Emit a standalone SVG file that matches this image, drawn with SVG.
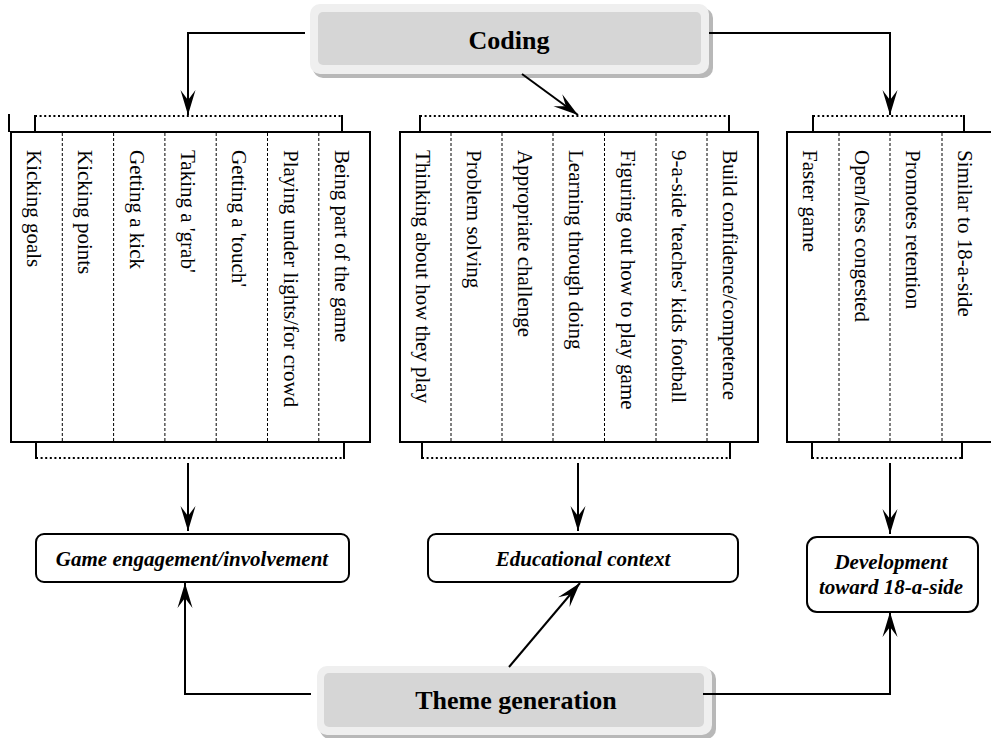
<svg xmlns="http://www.w3.org/2000/svg" width="991" height="738" viewBox="0 0 991 738">
<style>
.col{fill:#fff;stroke:#000;stroke-width:2}
.div{stroke:#000;stroke-width:1;stroke-dasharray:3 2}
.dot{stroke:#000;stroke-width:2;stroke-dasharray:2 2.6;fill:none}
.tick{stroke:#000;stroke-width:2}
.item{font-family:"Liberation Serif",serif;font-size:21px;fill:#000}
.out{fill:#fff;stroke:#000;stroke-width:2}
.outt{font-family:"Liberation Serif",serif;font-size:21px;font-weight:bold;font-style:italic;text-anchor:middle;fill:#000}
.big{font-family:"Liberation Serif",serif;font-size:26px;font-weight:bold;text-anchor:middle;fill:#000}
.con{stroke:#000;stroke-width:2;fill:none;marker-end:url(#ah)}
</style>
<defs>
<marker id="ah" markerUnits="userSpaceOnUse" markerWidth="26" markerHeight="16" viewBox="0 0 26 16" refX="25" refY="8" orient="auto">
<path d="M25,8 L0,0.5 L10,8 L0,15.5 Z" fill="#000"/>
</marker>
</defs>
<g id="coding">
<rect x="313" y="8" width="400" height="70" rx="10" fill="#b8b8b8"/>
<rect x="310" y="4" width="399" height="70" rx="10" fill="#efefef"/>
<rect x="318" y="12" width="383" height="53" rx="5" fill="#d6d6d6"/>
<text x="509" y="49" class="big">Coding</text>
</g>
<g id="theme-generation">
<rect x="320" y="669" width="396" height="70" rx="10" fill="#b8b8b8"/>
<rect x="317" y="666" width="395" height="69" rx="10" fill="#efefef"/>
<rect x="324" y="673" width="380" height="54" rx="5" fill="#d6d6d6"/>
<text x="516" y="709" class="big">Theme generation</text>
</g>
<g id="game-codes">
<line x1="9" y1="114" x2="9" y2="132" class="tick"/>
<line x1="35" y1="116" x2="342" y2="116" class="dot"/>
<line x1="35" y1="115" x2="35" y2="132" class="tick"/>
<line x1="342" y1="115" x2="342" y2="132" class="tick"/>
<rect x="11" y="132" width="359" height="310" class="col"/>
<line x1="62.3" y1="133" x2="62.3" y2="441" class="div"/>
<line x1="113.6" y1="133" x2="113.6" y2="441" class="div"/>
<line x1="164.9" y1="133" x2="164.9" y2="441" class="div"/>
<line x1="216.2" y1="133" x2="216.2" y2="441" class="div"/>
<line x1="267.5" y1="133" x2="267.5" y2="441" class="div"/>
<line x1="318.8" y1="133" x2="318.8" y2="441" class="div"/>
<text class="item" transform="translate(27,150) rotate(90)">Kicking goals</text>
<text class="item" transform="translate(78,150) rotate(90)">Kicking points</text>
<text class="item" transform="translate(130,150) rotate(90)">Getting a kick</text>
<text class="item" transform="translate(181,150) rotate(90)">Taking a 'grab'</text>
<text class="item" transform="translate(232,150) rotate(90)">Getting a 'touch'</text>
<text class="item" transform="translate(284,150) rotate(90)">Playing under lights/for crowd</text>
<text class="item" transform="translate(335,150) rotate(90)">Being part of the game</text>
<line x1="36" y1="442" x2="36" y2="459" class="tick"/>
<line x1="344" y1="442" x2="344" y2="459" class="tick"/>
<line x1="36" y1="458" x2="344" y2="458" class="dot"/>
</g>
<g id="education-codes">
<line x1="420" y1="116" x2="729" y2="116" class="dot"/>
<line x1="420" y1="115" x2="420" y2="132" class="tick"/>
<line x1="729" y1="115" x2="729" y2="132" class="tick"/>
<rect x="400" y="132" width="358" height="310" class="col"/>
<line x1="451" y1="133" x2="451" y2="441" class="div"/>
<line x1="502" y1="133" x2="502" y2="441" class="div"/>
<line x1="553" y1="133" x2="553" y2="441" class="div"/>
<line x1="604.5" y1="133" x2="604.5" y2="441" class="div"/>
<line x1="656" y1="133" x2="656" y2="441" class="div"/>
<line x1="707" y1="133" x2="707" y2="441" class="div"/>
<text class="item" transform="translate(416,150) rotate(90)">Thinking about how they play</text>
<text class="item" transform="translate(467,150) rotate(90)">Problem solving</text>
<text class="item" transform="translate(518,150) rotate(90)">Appropriate challenge</text>
<text class="item" transform="translate(569,150) rotate(90)">Learning through doing</text>
<text class="item" transform="translate(621,150) rotate(90)">Figuring out how to play game</text>
<text class="item" transform="translate(672,150) rotate(90)">9-a-side 'teaches' kids football</text>
<text class="item" transform="translate(723,150) rotate(90)">Build confidence/competence</text>
<line x1="422" y1="442" x2="422" y2="459" class="tick"/>
<line x1="730" y1="442" x2="730" y2="459" class="tick"/>
<line x1="422" y1="458" x2="730" y2="458" class="dot"/>
</g>
<g id="development-codes">
<line x1="813" y1="116" x2="964" y2="116" class="dot"/>
<line x1="813" y1="115" x2="813" y2="132" class="tick"/>
<line x1="964" y1="115" x2="964" y2="132" class="tick"/>
<rect x="787" y="132" width="207" height="310" class="col"/>
<line x1="839" y1="133" x2="839" y2="441" class="div"/>
<line x1="890" y1="133" x2="890" y2="441" class="div"/>
<line x1="942" y1="133" x2="942" y2="441" class="div"/>
<text class="item" transform="translate(803,150) rotate(90)">Faster game</text>
<text class="item" transform="translate(855,150) rotate(90)">Open/less congested</text>
<text class="item" transform="translate(906,150) rotate(90)">Promotes retention</text>
<text class="item" transform="translate(958,150) rotate(90)">Similar to 18-a-side</text>
<line x1="812" y1="442" x2="812" y2="459" class="tick"/>
<line x1="962" y1="442" x2="962" y2="459" class="tick"/>
<line x1="812" y1="458" x2="962" y2="458" class="dot"/>
</g>
<g id="game-engagement">
<rect x="36" y="534" width="313" height="48" rx="8" class="out"/>
<text x="192" y="566" class="outt">Game engagement/involvement</text>
</g>
<g id="educational-context">
<rect x="428" y="534" width="310" height="48" rx="8" class="out"/>
<text x="583" y="566" class="outt">Educational context</text>
</g>
<g id="development">
<rect x="807" y="537" width="171" height="75" rx="10" class="out"/>
<text x="891" y="569" class="outt">Development</text>
<text x="891" y="594" class="outt">toward 18-a-side</text>
</g>
<g id="connectors">
<polyline points="305,33 188,33 188,115" class="con"/>
<polyline points="709,33 890,33 890,115" class="con"/>
<line x1="522" y1="74" x2="578" y2="115" class="con"/>
<line x1="188" y1="463" x2="188" y2="531" class="con"/>
<line x1="578" y1="463" x2="578" y2="531" class="con"/>
<line x1="890" y1="463" x2="890" y2="534" class="con"/>
<polyline points="311,694 185,694 185,583" class="con"/>
<line x1="509" y1="667" x2="580" y2="583" class="con"/>
<polyline points="703,694 890,694 890,612" class="con"/>
</g>
</svg>
